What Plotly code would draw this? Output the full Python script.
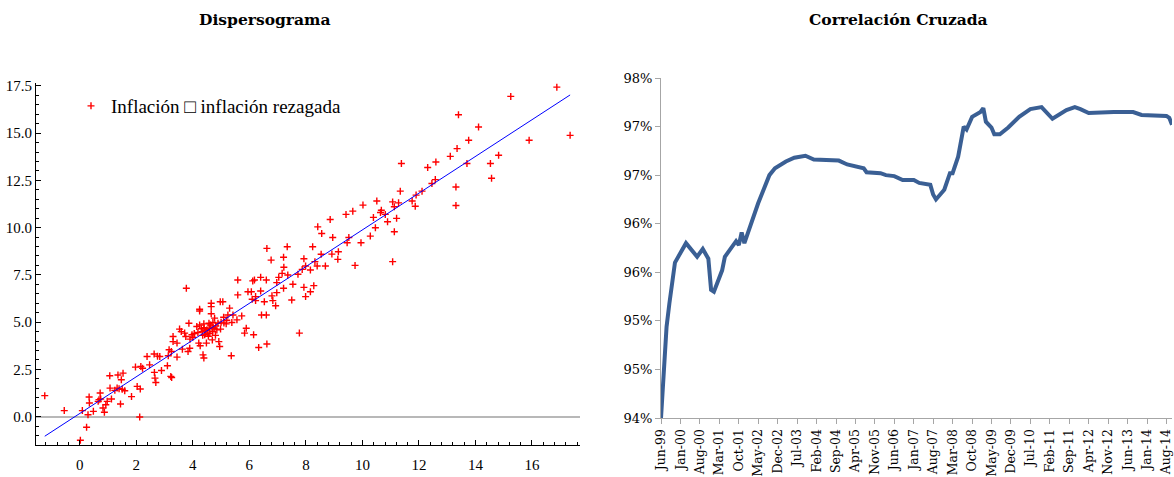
import numpy as np
import pandas as pd
import plotly.graph_objects as go

# ---------------- Scatter data (Dispersograma) ----------------
infl_lag = [
    -1.24, -0.55, 0.02, 0.09, 0.24, 0.29, 0.33, 0.34, 0.48, 0.65, 0.68, 0.72, 0.74, 0.82, 0.87, 0.92, 0.97,
    1.06, 1.07, 1.12, 1.24, 1.32, 1.35, 1.39, 1.44, 1.47, 1.50, 1.53, 1.59, 1.83, 1.97, 2.03, 2.12, 2.14,
    2.16, 2.22, 2.38, 2.47, 2.63, 2.64, 2.66, 2.69, 2.75, 2.83, 2.89, 3.10, 3.13, 3.16, 3.22, 3.25, 3.24,
    3.44, 3.30, 3.30, 3.44, 3.53, 3.59, 3.63, 3.71, 3.75, 3.83, 3.86, 3.89, 3.97, 4.00, 4.14, 4.18, 4.21,
    4.24, 4.24, 4.26, 4.33, 4.36, 4.39, 4.39, 4.42, 4.48, 4.53, 4.57, 4.59, 4.65, 4.65, 4.65, 4.69, 4.71,
    4.77, 4.81, 4.85, 4.89, 4.92, 4.95, 4.97, 4.98, 5.06, 5.09, 5.18, 5.24, 5.30, 5.36, 5.38, 5.42, 5.56,
    5.73, 5.83, 5.89, 6.15, 6.22, 6.33, 6.43, 6.53, 6.60, 6.62, 6.83, 6.93, 3.77, 4.24, 5.59, 5.59, 5.95,
    6.07, 6.10, 6.12, 6.18, 6.22, 6.40, 6.40, 6.60, 6.62, 6.77, 6.80, 6.97, 6.97, 7.04, 7.16, 7.21, 7.22,
    7.21, 7.34, 7.36, 7.50, 7.54, 7.72, 7.77, 7.87, 7.93, 7.93, 7.99, 7.99, 8.16, 8.16, 8.28, 8.24, 8.32,
    8.40, 8.42, 8.54, 8.56, 8.69, 8.86, 8.92, 8.95, 9.13, 9.15, 9.42, 9.46, 9.52, 9.66, 9.74, 9.95, 10.02,
    10.28, 10.39, 10.46, 10.51, 10.64, 10.67, 10.81, 10.89, 11.07, 11.07, 11.13, 11.13, 11.21, 11.28, 11.34,
    11.76, 11.87, 11.90, 12.11, 12.31, 12.46, 12.58, 12.60, 13.31, 13.31, 13.35, 13.40, 13.11, 13.70, 13.76,
    14.11, 14.53, 14.57, 14.82, 15.25, 15.90, 16.88, 17.35, 11.38,
    4.45, 4.60, 4.70, 4.50, 4.40, 4.80, 4.35, 4.55, 4.30, 4.75, 4.05, 3.90, 5.00, 5.10, 5.20, 4.62, 4.68,
]
infl = [
    1.11, 0.32, -1.25, 0.32, -0.56, 0.10, 1.04, 0.72, 0.28, 0.81, 0.90, 1.25, 0.93, 0.46, 0.23, 0.63, 0.81,
    2.16, 1.51, 0.93, 1.39, 1.51, 2.20, 1.48, 0.67, 1.95, 1.45, 2.30, 1.37, 1.06, 2.62, 1.60, -0.02, 1.46,
    2.65, 2.56, 3.18, 2.74, 3.31, 2.34, 2.04, 1.81, 3.20, 3.18, 2.44, 2.69, 3.22, 3.54, 2.13, 2.07, 3.45,
    3.15, 4.24, 3.97, 3.89, 4.63, 4.50, 3.57, 4.42, 4.24, 3.45, 4.94, 3.62, 4.33, 4.20, 4.77, 4.45, 3.89,
    5.59, 4.85, 3.75, 4.50, 3.27, 3.10, 4.91, 4.33, 3.89, 4.42, 4.94, 4.68, 6.00, 5.82, 5.44, 4.06, 4.98,
    5.21, 4.80, 4.59, 4.94, 3.97, 3.71, 6.08, 4.63, 6.08, 5.26, 4.91, 5.38, 5.74, 3.22, 4.98, 5.38, 5.12,
    5.33, 4.42, 4.68, 4.33, 6.14, 3.66, 5.38, 6.08, 5.38, 3.84, 6.14, 5.87, 6.79, 5.68, 7.23, 6.44, 6.61,
    6.61, 6.21, 7.18, 7.23, 6.35, 7.37, 6.65, 7.23, 8.90, 8.28, 6.39, 7.09, 6.56, 7.37, 7.58, 8.43, 7.90,
    6.79, 8.99, 7.49, 6.17, 7.00, 7.53, 4.42, 7.79, 8.35, 6.84, 6.35, 7.97, 7.76, 6.61, 6.93, 8.99, 8.20,
    7.97, 10.04, 8.59, 9.69, 7.97, 10.43, 8.60, 9.48, 8.32, 8.72, 10.70, 9.20, 9.48, 10.87, 8.00, 9.20, 11.19,
    9.55, 10.54, 9.99, 11.41, 10.80, 10.92, 10.70, 10.31, 11.36, 8.20, 9.78, 11.10, 10.49, 11.31, 11.93,
    11.41, 11.13, 11.72, 11.93, 13.18, 12.33, 12.54, 13.47, 12.15, 11.17, 14.18, 15.97, 13.77, 13.39, 14.62,
    15.32, 13.39, 12.61, 13.83, 16.94, 14.62, 17.43, 14.88, 13.39,
    4.55, 4.40, 4.50, 4.60, 4.70, 4.30, 4.30, 4.25, 4.65, 4.65, 4.40, 4.10, 5.00, 4.95, 5.10, 4.85, 4.72,
]
scatter_label = "Inflación \u25a1 inflación rezagada"

# ---------------- Line data (Correlación Cruzada) ----------------
corr_dates = [
    "1999-06", "1999-08", "1999-09", "1999-11", "2000-03", "2000-04", "2000-07", "2000-09", "2000-11",
    "2000-12", "2001-01", "2001-04", "2001-05", "2001-09", "2001-10", "2001-11", "2001-12", "2002-05",
    "2002-09", "2002-11", "2003-03", "2003-06", "2003-10", "2004-01", "2004-10", "2005-01", "2005-07",
    "2005-08", "2006-01", "2006-03", "2006-06", "2006-09", "2007-01", "2007-03", "2007-07", "2007-08",
    "2007-09", "2007-12", "2008-02", "2008-03", "2008-05", "2008-07", "2008-08", "2008-10", "2009-01",
    "2009-02", "2009-03", "2009-05", "2009-06", "2009-08", "2009-11", "2010-03", "2010-07", "2010-11",
    "2010-12", "2011-03", "2011-08", "2011-11", "2012-01", "2012-04", "2013-01", "2013-08", "2013-11",
    "2014-08", "2014-09", "2014-10",
]
corr_values = [
    94.00, 94.94, 95.18, 95.60, 95.80, 95.76, 95.66, 95.74, 95.64,
    95.32, 95.30, 95.52, 95.66, 95.82, 95.78, 95.91, 95.80, 96.21,
    96.50, 96.57, 96.64, 96.68, 96.70, 96.66, 96.65, 96.61, 96.57,
    96.53, 96.52, 96.50, 96.49, 96.45, 96.45, 96.42, 96.40, 96.30,
    96.25, 96.35, 96.52, 96.52, 96.69, 97.00, 96.97, 97.10, 97.15,
    97.19, 97.05, 96.99, 96.92, 96.92, 96.99, 97.10, 97.18, 97.20,
    97.17, 97.08, 97.17, 97.20, 97.18, 97.14, 97.15, 97.15, 97.12,
    97.11, 97.09, 97.02,
]
corr_tick_labels = [
    "Jun-99", "Jan-00", "Aug-00", "Mar-01", "Oct-01", "May-02", "Dec-02", "Jul-03", "Feb-04",
    "Sep-04", "Apr-05", "Nov-05", "Jun-06", "Jan-07", "Aug-07", "Mar-08", "Oct-08", "May-09",
    "Dec-09", "Jul-10", "Feb-11", "Sep-11", "Apr-12", "Nov-12", "Jun-13", "Jan-14", "Aug-14",
]
corr_y_ticks = [94.0, 94.5, 95.0, 95.5, 96.0, 96.5, 97.0, 97.5]
corr_y_labels = ["94%", "95%", "95%", "96%", "96%", "97%", "97%", "98%"]

# ---------------- Figure ----------------
W, H = 1174, 477
def fx(px):
    return px / W
def fy(py):
    return 1 - py / H

fig = go.Figure()

xs = np.array(infl_lag)
ys = np.array(infl)
slope, intercept = np.polyfit(xs, ys, 1)
line_x = np.array([xs.min(), xs.max()])

fig.add_trace(go.Scatter(
    x=infl_lag, y=infl, mode="markers", name=scatter_label,
    marker=dict(symbol="cross-thin", size=5, color="red", line=dict(color="red", width=1.4)),
    xaxis="x", yaxis="y", showlegend=True,
))
fig.add_trace(go.Scatter(
    x=line_x, y=intercept + slope * line_x, mode="lines",
    line=dict(color="blue", width=1), xaxis="x", yaxis="y", showlegend=False, hoverinfo="skip",
))

corr_x = pd.to_datetime(corr_dates, format="%Y-%m")
fig.add_trace(go.Scatter(
    x=corr_x, y=[v / 100 for v in corr_values], mode="lines",
    line=dict(color="#3A5F94", width=4), xaxis="x2", yaxis="y2", showlegend=False,
))

serif = "Liberation Serif"
cam = "DejaVu Serif"
tickvals_dates = pd.to_datetime(corr_tick_labels, format="%b-%y")

fig.update_layout(
    width=W, height=H, margin=dict(l=0, r=0, t=0, b=0),
    paper_bgcolor="white", plot_bgcolor="white",
    showlegend=True,
    legend=dict(x=fx(71), y=fy(87), xanchor="left", yanchor="top",
                font=dict(family=serif, size=19, color="black"),
                bgcolor="rgba(0,0,0,0)", itemsizing="trace"),
    xaxis=dict(
        domain=[fx(36), fx(580)], range=[-1.55, 17.7], showline=True, linecolor="black", linewidth=1,
        ticks="inside", ticklen=5, tickcolor="black", dtick=2, tick0=0, showgrid=False, zeroline=False,
        minor=dict(dtick=0.4, ticks="inside", ticklen=3, tickcolor="black"),
        tickfont=dict(family=serif, size=15, color="black"), ticklabelstandoff=6, automargin=False,
        anchor="y",
    ),
    yaxis=dict(
        domain=[fy(445), fy(83)], range=[-1.5, 17.65], showline=True, linecolor="black", linewidth=1,
        ticks="inside", ticklen=5, tickcolor="black", dtick=2.5, tick0=0, tickformat=".1f",
        showgrid=False, zeroline=True, zerolinecolor="#b8b8b8", zerolinewidth=2,
        minor=dict(dtick=0.5, ticks="inside", ticklen=3, tickcolor="black"),
        tickfont=dict(family=serif, size=15, color="black"), automargin=False, anchor="x",
    ),
    xaxis2=dict(
        domain=[fx(661), fx(1172)], type="date", range=[corr_x[0], corr_x[-1]],
        tickvals=tickvals_dates, ticktext=corr_tick_labels, tickangle=-90,
        showline=True, linecolor="#a6a6a6", linewidth=1, ticks="outside", ticklen=5, tickcolor="#a6a6a6",
        showgrid=False, zeroline=False, tickfont=dict(family=cam, size=12.5, color="black"),
        automargin=False, anchor="y2",
    ),
    yaxis2=dict(
        domain=[fy(418), fy(78)], range=[0.94, 0.975],
        tickvals=[v / 100 for v in corr_y_ticks], ticktext=corr_y_labels,
        showline=True, linecolor="#a6a6a6", linewidth=1, ticks="outside", ticklen=5, tickcolor="#a6a6a6",
        showgrid=False, zeroline=False, tickfont=dict(family=cam, size=13, color="black"),
        automargin=False, anchor="x2",
    ),
    annotations=[
        dict(text="<b>Dispersograma</b>", x=fx(264), y=fy(20), xref="paper", yref="paper",
             xanchor="center", yanchor="middle", showarrow=False,
             font=dict(family=cam, size=15.5, color="black")),
        dict(text="<b>Correlación Cruzada</b>", x=fx(898), y=fy(20), xref="paper", yref="paper",
             xanchor="center", yanchor="middle", showarrow=False,
             font=dict(family=cam, size=15.5, color="black")),
    ],
)

fig.write_html(
    "out.html",
    config={"displayModeBar": False},
    post_script="document.body.style.margin='0';document.body.style.overflow='hidden';",
)
